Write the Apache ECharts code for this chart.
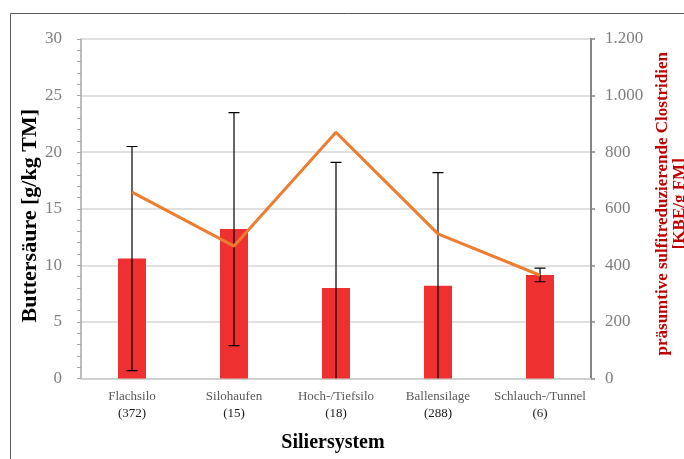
<!DOCTYPE html>
<html>
<head>
<meta charset="utf-8">
<script src="https://cdn.jsdelivr.net/npm/echarts@6/dist/echarts.min.js"></script>
<style>
  html, body { margin: 0; padding: 0; background: #fff; }
  #chart { width: 684px; height: 459px; }
</style>
</head>
<body>
<div id="chart"></div>
<script>
// Silage systems with number of samples
const categories = ['Flachsilo', 'Silohaufen', 'Hoch-/Tiefsilo', 'Ballensilage', 'Schlauch-/Tunnel'];
const sampleCounts = [372, 15, 18, 288, 6];
// Butyric acid mean and standard deviation [g/kg TM]
const butyricMean = [10.6, 13.2, 8.0, 8.2, 9.15];
const butyricSD = [9.9, 10.3, 11.1, 10.0, 0.6];
// Presumptive sulfite-reducing clostridia [KBE/g FM]
const clostridia = [659, 468, 870, 511, 365];
// Axis ticks
const leftTicks = [0, 5, 10, 15, 20, 25, 30];
const rightTicks = [0, 200, 400, 600, 800, 1000, 1200];

const serif = '"Liberation Serif", "Times New Roman", serif';
const chart = echarts.init(document.getElementById('chart'));

const errorData = butyricMean.map((m, i) => [i, m - butyricSD[i], m + butyricSD[i]]);

const fmtThousands = v => String(v).replace(/\B(?=(\d{3})+(?!\d))/g, '.');

chart.setOption({
  animation: false,
  backgroundColor: '#fff',
  textStyle: { fontFamily: serif },
  grid: { left: 81, right: 93, top: 39, bottom: 80.5, outerBoundsMode: 'none', containLabel: false },
  graphic: [{
    type: 'rect',
    shape: { x: 10.5, y: 13.5, width: 720, height: 480 },
    style: { fill: 'none', stroke: '#595959', lineWidth: 1 },
    silent: true, z: -1
  }],
  xAxis: {
    type: 'category',
    data: categories,
    boundaryGap: true,
    axisLine: { lineStyle: { color: '#d0d0d0', width: 2 } },
    axisTick: { show: false },
    axisLabel: {
      margin: 10,
      interval: 0,
      formatter: (v, i) => '{n|' + v + '}\n{c|(' + sampleCounts[i] + ')}',
      rich: {
        n: { fontFamily: serif, fontSize: 13, color: '#595959', lineHeight: 17 },
        c: { fontFamily: serif, fontSize: 13, color: '#1a1a1a', lineHeight: 17 }
      }
    },
    name: 'Siliersystem',
    nameLocation: 'middle',
    nameGap: 54,
    nameTextStyle: { fontFamily: serif, fontSize: 20, fontWeight: 'bold', color: '#000', padding: [0, 6, 0, 0] }
  },
  yAxis: [{
    type: 'value',
    min: leftTicks[0],
    max: leftTicks[leftTicks.length - 1],
    interval: 5,
    axisLine: { show: true, lineStyle: { color: '#a6a6a6', width: 1.5 } },
    axisTick: { show: true, inside: false, length: 4, lineStyle: { color: '#a6a6a6' } },
    minorTick: { show: true, splitNumber: 5, length: 4, lineStyle: { color: '#a6a6a6' } },
    splitLine: { show: true, lineStyle: { color: '#d6d6d6', width: 1.5 } },
    axisLabel: { margin: 19, fontFamily: serif, fontSize: 17, color: '#7f7f7f' },
    name: 'Buttersäure [g/kg TM]',
    nameLocation: 'middle',
    nameGap: 40,
    nameMoveOverlap: false,
    nameRotate: 90,
    nameTextStyle: { fontFamily: serif, fontSize: 22, fontWeight: 'bold', color: '#000', padding: [0, 14, 0, 0] }
  }, {
    type: 'value',
    position: 'right',
    min: rightTicks[0],
    max: rightTicks[rightTicks.length - 1],
    interval: 200,
    axisLine: { show: true, lineStyle: { color: '#868686', width: 2 } },
    axisTick: { show: true, inside: false, length: 4, lineStyle: { color: '#868686', width: 1.5 } },
    splitLine: { show: false },
    axisLabel: { margin: 14, fontFamily: serif, fontSize: 17, color: '#7f7f7f', formatter: fmtThousands },
    name: 'präsumtive sulfitreduzierende Clostridien\n[KBE/g FM]',
    nameLocation: 'middle',
    nameGap: 54,
    nameRotate: 90,
    nameTextStyle: { fontFamily: serif, fontSize: 17, fontWeight: 'bold', color: '#c00000', lineHeight: 17, align: 'center', padding: [0, 0, 0, 10] }
  }],
  series: [{
    type: 'bar',
    yAxisIndex: 0,
    data: butyricMean,
    barWidth: 28,
    itemStyle: { color: '#ee3030' },
    z: 2
  }, {
    type: 'custom',
    yAxisIndex: 0,
    data: errorData,
    clip: true,
    z: 4,
    renderItem: (params, api) => {
      const x = api.value(0);
      const lo = Math.max(api.value(1), 0);
      const hi = api.value(2);
      const pHi = api.coord([x, hi]);
      const pLo = api.coord([x, lo]);
      const cap = 5.5;
      const style = { stroke: '#000', lineWidth: 1.2 };
      const children = [
        { type: 'line', shape: { x1: pHi[0], y1: pHi[1], x2: pLo[0], y2: pLo[1] }, style },
        { type: 'line', shape: { x1: pHi[0] - cap, y1: pHi[1], x2: pHi[0] + cap, y2: pHi[1] }, style }
      ];
      if (api.value(1) >= 0) {
        children.push({ type: 'line', shape: { x1: pLo[0] - cap, y1: pLo[1], x2: pLo[0] + cap, y2: pLo[1] }, style });
      }
      return { type: 'group', children };
    }
  }, {
    type: 'line',
    yAxisIndex: 1,
    data: clostridia,
    showSymbol: false,
    symbol: 'none',
    lineStyle: { color: '#ed7d31', width: 3 },
    z: 5
  }]
});
</script>
</body>
</html>
